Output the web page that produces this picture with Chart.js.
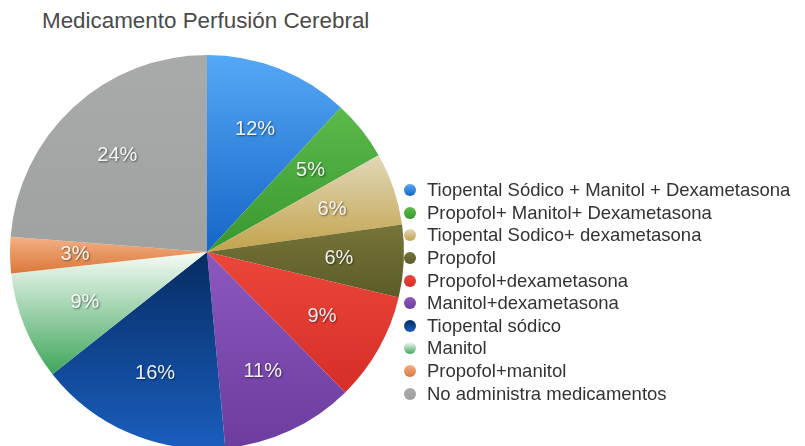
<!DOCTYPE html>
<html>
<head>
<meta charset="utf-8">
<script src="https://cdn.jsdelivr.net/npm/chart.js@4"></script>
<style>
  html, body { margin: 0; padding: 0; background: #fff; overflow: hidden; }
  body { width: 805px; height: 446px; position: relative; font-family: "Liberation Sans", Arial, Helvetica, sans-serif; }
  #title { position: absolute; left: 42px; top: 8px; font-size: 22.4px; color: #4a4a4a; white-space: nowrap; }
  #wrap { position: absolute; left: 0; top: 0; width: 805px; height: 452px; }
  #legend { position: absolute; left: 404px; top: 179px; }
  .row { display: flex; align-items: center; height: 22.6px; font-size: 18.5px; color: #333; white-space: nowrap; }
  .dot { width: 12px; height: 12px; border-radius: 50%; margin-right: 11px; }
</style>
</head>
<body>
<div id="title">Medicamento Perfusión Cerebral</div>
<div id="wrap"><canvas id="pieChart"></canvas></div>
<div id="legend"></div>
<script>
const labels = [
  'Tiopental Sódico + Manitol + Dexametasona',
  'Propofol+ Manitol+ Dexametasona',
  'Tiopental Sodico+ dexametasona',
  'Propofol',
  'Propofol+dexametasona',
  'Manitol+dexametasona',
  'Tiopental sódico',
  'Manitol',
  'Propofol+manitol',
  'No administra medicamentos'
];
const percents = [12, 5, 6, 6, 9, 11, 16, 9, 3, 24];
const colors = ['#2f86dd', '#45a83a', '#cbb46c', '#6a6b32', '#e0362c', '#7c4bb0', '#0d4690', '#6cc08a', '#e08a50', '#a6a8a8'];
// top / bottom shades for the glossy look of the original
const topShades = ['#55a8f5', '#5cba4a', '#e2d8b8', '#767438', '#ec463a', '#8c58be', '#062c62', '#f6fbf7', '#f4b084', '#a9abab'];
const bottomShades = ['#1565c8', '#389830', '#c2a34c', '#5c5c28', '#d62e28', '#6c3c9e', '#1a5ebe', '#3ea65a', '#da783a', '#a0a2a2'];

// legend
const legend = document.getElementById('legend');
labels.forEach((label, i) => {
    const row = document.createElement('div');
    row.className = 'row';
    row.innerHTML = '<span class="dot" style="background:linear-gradient(' + topShades[i] + ',' + bottomShades[i] + ')"></span>' + label;
    legend.appendChild(row);
});

// vertical gradient per slice
const sliceGradients = {
    id: 'sliceGradients',
    beforeDatasetsDraw(chart) {
        const { ctx } = chart;
        chart.getDatasetMeta(0).data.forEach((arc, i) => {
            let minY = arc.y, maxY = arc.y;
            for (let k = 0; k <= 40; k++) {
                const a = arc.startAngle + (arc.endAngle - arc.startAngle) * k / 40;
                const y = arc.y + Math.sin(a) * arc.outerRadius;
                minY = Math.min(minY, y);
                maxY = Math.max(maxY, y);
            }
            const g = ctx.createLinearGradient(0, minY, 0, maxY);
            g.addColorStop(0, topShades[i]);
            g.addColorStop(1, bottomShades[i]);
            arc.options.backgroundColor = g;
        });
    }
};

// percent labels inside slices
const sliceLabels = {
    id: 'sliceLabels',
    afterDatasetsDraw(chart) {
        const { ctx } = chart;
        const meta = chart.getDatasetMeta(0);
        ctx.save();
        ctx.font = '20px "Liberation Sans", Arial, sans-serif';
        ctx.textAlign = 'center';
        ctx.textBaseline = 'middle';
        ctx.shadowColor = 'rgba(0,0,0,0.55)';
        ctx.shadowBlur = 2;
        ctx.shadowOffsetX = 1;
        ctx.shadowOffsetY = 1;
        ctx.fillStyle = 'rgba(255,255,255,0.92)';
        meta.data.forEach((arc, i) => {
            const mid = (arc.startAngle + arc.endAngle) / 2;
            const r = arc.outerRadius * 0.67;
            ctx.fillText(percents[i] + '%', arc.x + Math.cos(mid) * r, arc.y + Math.sin(mid) * r);
        });
        ctx.restore();
    }
};

new Chart(document.getElementById('pieChart'), {
    type: 'pie',
    data: {
        labels: labels,
        datasets: [{
            data: percents,
            backgroundColor: colors,
            borderWidth: 0
        }]
    },
    options: {
        responsive: true,
        maintainAspectRatio: false,
        animation: false,
        layout: { padding: { left: 10, right: 401, top: 55, bottom: 3 } },
        plugins: {
            legend: { display: false },
            tooltip: { enabled: false }
        }
    },
    plugins: [sliceGradients, sliceLabels]
});
</script>
</body>
</html>
